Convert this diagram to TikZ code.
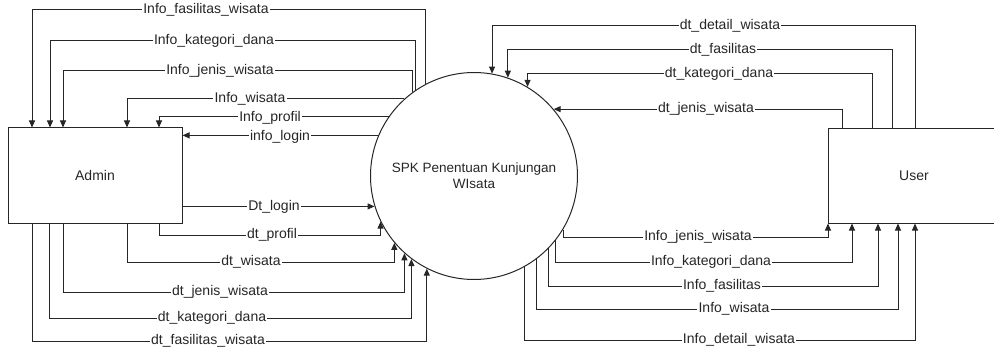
\documentclass[tikz,border=0pt]{standalone}
\usepackage{fontspec}
\setmainfont{Liberation Sans}
\usetikzlibrary{arrows.meta}
\begin{document}
\begin{tikzpicture}[x=1pt,y=-1pt,
  line width=1pt,
  flow/.style={draw=black!85, -{Triangle[length=7pt,width=6pt]}},
  lbl/.style={fill=white, inner sep=1.2pt, font=\fontsize{14}{16}\selectfont, text=black!85},
  ent/.style={draw=black!85, rectangle, inner sep=0pt, font=\fontsize{14}{16}\selectfont, text=black!85},
  ]
\useasboundingbox (0,0) rectangle (994,350);
\clip (0,0) rectangle (994,350);
% entities and process
\node[ent, minimum width=174pt, minimum height=95pt] (admin) at (95,175.5) {Admin};
\node[ent, minimum width=172pt, minimum height=94pt] (user) at (914,176) {User};
\node[draw=black!85, circle, minimum size=207pt, inner sep=0pt, align=center,
      font=\fontsize{13.5}{16}\selectfont, text=black!85] (spk) at (474,176)
      {SPK Penentuan Kunjungan\\WIsata};
% level coordinates
\coordinate (k1) at (32,10);
\coordinate (k2) at (50,41);
\coordinate (k3) at (63,71);
\coordinate (k4) at (127,99);
\coordinate (k5) at (159,118);
\coordinate (k8) at (159,235);
\coordinate (k9) at (127,262);
\coordinate (k10) at (63,292);
\coordinate (k11) at (49,318);
\coordinate (k12) at (32,341);
\coordinate (k13) at (915,26);
\coordinate (k14) at (892,50);
\coordinate (k15) at (872,74);
\coordinate (k16) at (842,109);
\coordinate (k17) at (828,237);
\coordinate (k18) at (852,262);
\coordinate (k19) at (878,286);
\coordinate (k20) at (898,309);
\coordinate (k21) at (915,340);
% spk -> admin (top)
\draw[flow] (spk.118.9) |- (k1) -- (k1 |- admin.north);
\draw[flow] (spk.124.1) |- (k2) -- (k2 |- admin.north);
\draw[flow] (spk.126.8) |- (k3) -- (k3 |- admin.north);
\draw[flow] (spk.132) -| (k4 |- admin.north);
\draw[flow] (spk.145.9) -| (k5 |- admin.north);
\draw[flow] (spk.157.9) -- (spk.157.9 -| admin.east);
% admin -> spk (bottom)
\draw[flow] (spk.197.4 -| admin.east) -- (spk.197.4);
\draw[flow] (k8 |- admin.south) |- (spk.206 |- k8) -- (spk.206);
\draw[flow] (k9 |- admin.south) |- (spk.220.3 |- k9) -- (spk.220.3);
\draw[flow] (k10 |- admin.south) |- (spk.228.2 |- k10) -- (spk.228.2);
\draw[flow] (k11 |- admin.south) |- (spk.233.9 |- k11) -- (spk.233.9);
\draw[flow] (k12 |- admin.south) |- (spk.243.6 |- k12) -- (spk.243.6);
% user -> spk (top)
\draw[flow] (k13 |- user.north) |- (spk.80 |- k13) -- (spk.80);
\draw[flow] (k14 |- user.north) |- (spk.71.4 |- k14) -- (spk.71.4);
\draw[flow] (k15 |- user.north) |- (spk.59.2 |- k15) -- (spk.59.2);
\draw[flow] (k16 |- user.north) |- (spk.40.3);
% spk -> user (bottom)
\draw[flow] (spk.-31.8) |- (k17) -- (k17 |- user.south);
\draw[flow] (spk.-38.5) |- (k18) -- (k18 |- user.south);
\draw[flow] (spk.-44.4) |- (k19) -- (k19 |- user.south);
\draw[flow] (spk.-53.9) |- (k20) -- (k20 |- user.south);
\draw[flow] (spk.-61.75) |- (k21) -- (k21 |- user.south);
% labels
\node[lbl] (l1) at (206,10) {Info\_fasilitas\_wisata};
\node[lbl] (l2) at (214,41) {Info\_kategori\_dana};
\node[lbl] (l3) at (220,71) {Info\_jenis\_wisata};
\node[lbl] (l4) at (250,99) {Info\_wisata};
\node[lbl] (l5) at (270,118) {Info\_profil};
\node[lbl] (l6) at (280,137) {info\_login};
\node[lbl] (l7) at (274,207) {Dt\_login};
\node[lbl] (l8) at (272,235) {dt\_profil};
\node[lbl] (l9) at (251,262) {dt\_wisata};
\node[lbl] (l10) at (220,292) {dt\_jenis\_wisata};
\node[lbl] (l11) at (212,318) {dt\_kategori\_dana};
\node[lbl] (l12) at (208,341) {dt\_fasilitas\_wisata};
\node[lbl] (l13) at (730,26) {dt\_detail\_wisata};
\node[lbl] (l14) at (723,50) {dt\_fasilitas};
\node[lbl] (l15) at (719,74) {dt\_kategori\_dana};
\node[lbl] (l16) at (706,109) {dt\_jenis\_wisata};
\node[lbl] (l17) at (698,237) {Info\_jenis\_wisata};
\node[lbl] (l18) at (711,262) {Info\_kategori\_dana};
\node[lbl] (l19) at (722,286) {Info\_fasilitas};
\node[lbl] (l20) at (734,309) {Info\_wisata};
\node[lbl] (l21) at (739,340) {Info\_detail\_wisata};
\end{tikzpicture}
\end{document}
